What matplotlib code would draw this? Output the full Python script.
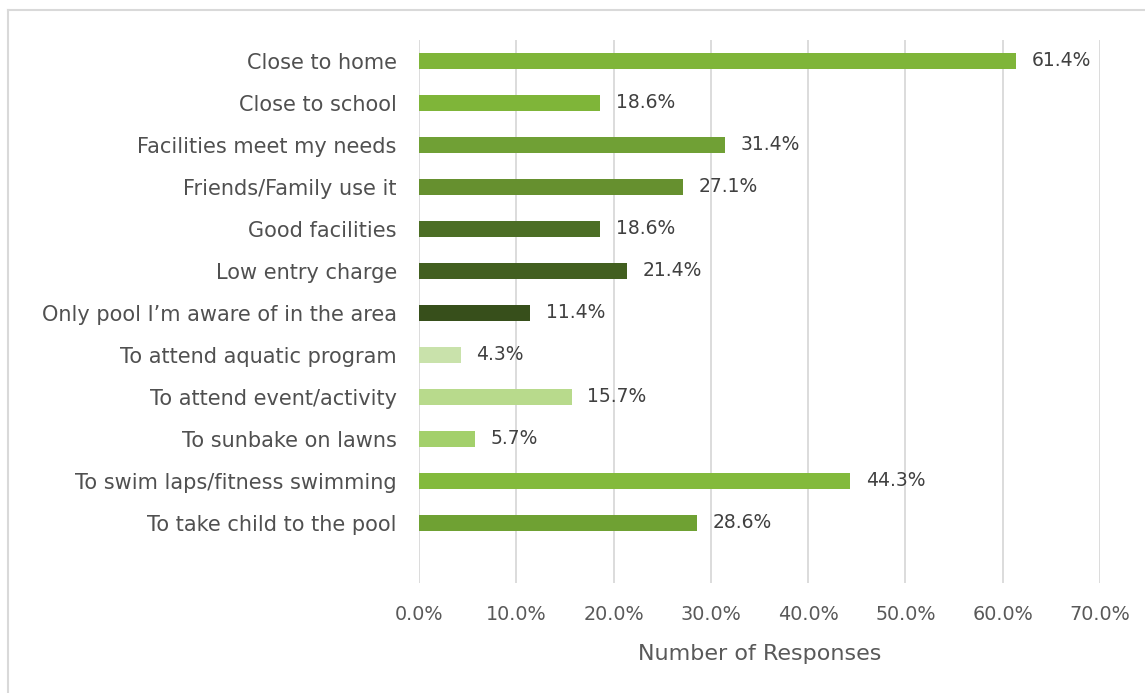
import matplotlib.pyplot as plt
from matplotlib.lines import Line2D

reasons = ["Close to home", "Close to school", "Facilities meet my needs",
           "Friends/Family use it", "Good facilities", "Low entry charge",
           "Only pool I\u2019m aware of in the area", "To attend aquatic program",
           "To attend event/activity", "To sunbake on lawns",
           "To swim laps/fitness swimming", "To take child to the pool"]
shares = [61.4, 18.6, 31.4, 27.1, 18.6, 21.4, 11.4, 4.3, 15.7, 5.7, 44.3, 28.6]
colors = ["#7fb539", "#7fb539", "#70a035", "#66902f", "#4c6e25", "#425f20",
          "#374f1b", "#c9e2ab", "#b8da8c", "#a3d06b", "#83ba3c", "#6fa133"]
ticks = [0, 10, 20, 30, 40, 50, 60, 70]

plt.rcParams['font.family'] = ['DejaVu Sans']

fig = plt.figure(figsize=(11.45, 6.93), dpi=100)
ax = fig.add_axes([0.366, 0.1587, 0.5947, 0.7836])

y = list(range(len(reasons)))
ax.barh(y, shares, height=0.36, color=colors, zorder=3)
for yi, v in zip(y, shares):
    ax.text(v + 1.6, yi, f"{v:.1f}%", va="center", ha="left",
            fontsize=13.5, color="#404040")

ax.set_xlim(0, 70)
ax.set_ylim(12.43, -0.5)
ax.set_yticks(y)
ax.set_yticklabels(reasons, fontsize=15, color="#505050")
ax.set_xticks(ticks)
ax.set_xticklabels([f"{t:.1f}%" for t in ticks], fontsize=13.8, color="#595959")
ax.tick_params(axis="both", length=0)
ax.tick_params(axis="x", pad=16)
ax.tick_params(axis="y", pad=16)
ax.grid(axis="x", color="#d9d9d9", linewidth=1.3, zorder=0)
for s in ax.spines.values():
    s.set_visible(False)
ax.set_xlabel("Number of Responses", fontsize=16, color="#595959", labelpad=14)

# light frame on the top and left edges only
fig.add_artist(Line2D([8 / 1145, 8 / 1145], [0, 1 - 10 / 693], transform=fig.transFigure,
                      color="#d9d9d9", linewidth=1.5))
fig.add_artist(Line2D([8 / 1145, 1], [1 - 10 / 693, 1 - 10 / 693], transform=fig.transFigure,
                      color="#d9d9d9", linewidth=1.5))

fig.savefig("out.png", dpi=100)
